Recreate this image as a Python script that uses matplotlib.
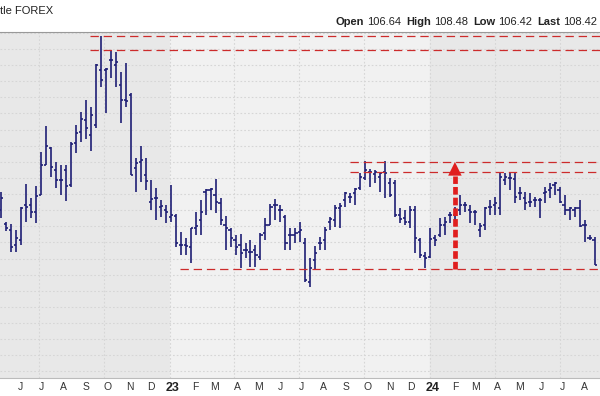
import datetime as dt

import matplotlib.dates as mdates
import matplotlib.pyplot as plt
import pandas as pd
from matplotlib.transforms import IdentityTransform

# weekly bars, first week starts on this Monday
first_week = "2022-05-09"

opens = [104.01, 103.14, 102.77, 101.84, 102.15, 104.32, 104.32, 103.89, 104.94, 106.80,
         107.86, 106.49, 105.87, 106.49, 105.56, 108.17, 108.85, 109.60, 108.67, 109.29,
         112.70, 112.70, 113.32, 113.01, 111.77, 110.84, 111.15, 106.62, 106.99, 106.18,
         104.51, 104.76, 104.20, 104.01, 103.58, 103.64, 101.84, 101.84, 101.72, 102.90,
         103.39, 105.13, 105.25, 104.94, 104.45, 103.08, 102.77, 102.15, 101.84, 101.53,
         101.41, 101.53, 101.10, 102.59, 103.08, 104.32, 104.01, 103.58, 102.46, 102.46,
         102.65, 101.97, 99.55, 100.91, 101.97, 102.15, 103.27, 103.39, 104.14, 104.63,
         104.82, 105.07, 105.38, 106.00, 106.37, 106.25, 106.06, 106.37, 105.69, 105.69,
         103.70, 103.52, 103.27, 104.01, 102.15, 101.16, 101.10, 102.28, 102.46, 103.08,
         103.70, 103.70, 104.01, 104.32, 104.01, 103.89, 102.77, 103.08, 104.20, 104.32,
         104.14, 105.87, 106.00, 105.94, 105.07, 104.76, 104.51, 104.63, 104.63, 105.07,
         105.25, 105.56, 105.25, 104.32, 104.01, 104.01, 104.14, 103.08, 102.28, 102.15]
highs = [105.13, 103.27, 103.14, 102.77, 104.20, 105.63, 104.76, 105.50, 107.61, 109.22,
         107.92, 106.99, 106.80, 106.80, 108.23, 109.29, 110.09, 110.84, 110.40, 113.07,
         114.81, 112.82, 113.94, 113.81, 112.57, 113.13, 111.27, 107.24, 107.98, 107.24,
         105.87, 105.38, 104.63, 104.32, 105.56, 103.76, 102.65, 102.28, 102.90, 103.89,
         104.63, 105.32, 105.38, 105.94, 104.76, 103.64, 102.90, 102.46, 102.52, 101.97,
         102.15, 101.84, 102.59, 103.52, 104.38, 104.70, 104.32, 103.70, 102.90, 102.90,
         103.27, 102.28, 101.03, 101.78, 102.34, 102.96, 103.58, 104.32, 104.45, 105.13,
         105.07, 105.38, 106.31, 107.05, 106.56, 106.49, 106.37, 107.05, 106.00, 105.87,
         104.14, 104.01, 104.26, 104.26, 102.28, 101.41, 102.90, 102.46, 103.52, 103.58,
         103.89, 104.20, 104.94, 104.51, 104.32, 104.01, 103.21, 104.20, 104.63, 104.82,
         106.31, 106.31, 106.37, 106.37, 105.44, 105.13, 105.07, 104.82, 104.76, 105.44,
         105.69, 105.75, 105.44, 104.94, 104.20, 104.20, 104.63, 103.39, 102.46, 102.34]
lows = [103.52, 102.71, 101.41, 101.41, 101.84, 103.27, 103.52, 103.21, 104.94, 106.80,
        106.06, 105.38, 104.94, 104.57, 105.44, 107.55, 108.23, 108.42, 107.67, 109.10,
        111.64, 110.03, 112.20, 111.64, 109.41, 110.40, 106.18, 105.13, 105.75, 105.25,
        104.01, 103.39, 103.58, 103.21, 103.27, 101.72, 101.22, 101.22, 100.72, 102.46,
        102.46, 103.70, 104.01, 103.83, 103.08, 101.53, 101.72, 101.22, 100.41, 101.03,
        100.48, 100.48, 100.91, 102.15, 103.08, 103.39, 103.27, 101.53, 101.53, 101.97,
        102.03, 99.55, 99.24, 100.29, 101.53, 101.53, 102.77, 102.96, 102.90, 104.20,
        104.45, 104.32, 105.25, 105.87, 105.44, 105.69, 105.13, 104.76, 104.82, 103.58,
        103.21, 103.08, 102.90, 101.35, 101.03, 100.41, 101.03, 101.78, 102.34, 102.46,
        103.21, 103.27, 103.70, 103.89, 103.21, 103.08, 102.34, 102.77, 103.70, 103.70,
        103.70, 105.56, 105.25, 104.45, 104.63, 104.01, 104.20, 104.20, 103.52, 104.45,
        104.76, 104.94, 104.45, 103.70, 103.39, 103.58, 102.96, 102.03, 102.15, 100.60]
closes = [104.76, 102.90, 101.72, 102.28, 104.14, 104.20, 103.89, 104.88, 106.80, 107.98,
          106.68, 105.87, 105.87, 105.50, 108.11, 108.79, 109.66, 109.10, 109.91, 113.01,
          112.08, 112.76, 113.32, 113.19, 110.84, 110.77, 106.18, 106.93, 107.11, 105.81,
          104.70, 104.76, 104.26, 103.89, 103.70, 101.97, 101.84, 101.78, 102.90, 103.02,
          103.89, 105.25, 105.32, 104.51, 103.39, 102.90, 102.28, 101.72, 101.35, 101.53,
          101.41, 101.22, 102.46, 103.08, 104.20, 104.32, 104.01, 101.97, 102.46, 102.59,
          102.77, 99.67, 100.41, 101.35, 101.97, 102.77, 103.45, 104.14, 104.26, 105.07,
          104.82, 105.32, 106.06, 106.49, 106.37, 106.37, 106.31, 106.31, 104.94, 103.70,
          103.45, 103.27, 104.01, 102.28, 101.22, 101.03, 102.21, 102.15, 103.08, 103.27,
          103.70, 103.95, 104.32, 104.32, 103.89, 103.89, 103.02, 104.14, 104.20, 104.45,
          106.06, 106.06, 106.00, 104.82, 105.07, 104.45, 104.51, 104.63, 104.63, 105.13,
          105.38, 105.69, 104.51, 104.01, 104.14, 104.14, 103.02, 103.08, 102.28, 100.60]

# red dashed levels and where they begin
levels = [114.81, 113.92, 106.99, 106.35, 100.38]
level_starts = ["2022-09-11", "2022-09-11", "2023-09-10", "2023-09-10", "2023-01-15"]

arrow_date = "2024-02-05"
arrow_low = 100.38
arrow_high = 106.99

month_labels = ["J", "J", "A", "S", "O", "N", "D", "23", "F", "M", "A", "M", "J",
                "J", "A", "S", "O", "N", "D", "24", "F", "M", "A", "M", "J", "J", "A"]
first_month = "2022-06-01"

header_left = "tle FOREX"
header = [("Open", "106.64"), ("High", "108.48"), ("Low", "106.42"), ("Last", "108.42")]

navy = "#1f1f75"
red = "#cc2b2b"

plt.rcParams["font.family"] = ["Liberation Sans", "DejaVu Sans"]
plt.rcParams["lines.scale_dashes"] = False

fig = plt.figure(figsize=(6, 3.96), dpi=100)
ax = fig.add_axes([0, 18 / 396, 1, 346 / 396])

weeks = mdates.date2num(pd.date_range(first_week, periods=len(closes), freq="7D"))
y23 = mdates.date2num(dt.datetime(2023, 1, 1))
y24 = mdates.date2num(dt.datetime(2024, 1, 1))
x_left, x_right = y23 - 238.7, y24 + 238.7

# year shading
ax.axvspan(x_left, y23, color="#e8e8e8", zorder=0)
ax.axvspan(y23, y24, color="#f1f1f1", zorder=0)
ax.axvspan(y24, x_right, color="#e8e8e8", zorder=0)

# grid
for v in range(94, 116):
    ax.axhline(v, color="#d6d6d6", lw=0.8, ls=(0, (1.2, 1.5)), zorder=1)
quarters = pd.date_range("2022-07-01", "2024-07-01", freq="QS")
for q in mdates.date2num(quarters):
    ax.axvline(q, color="#d6d6d6", lw=0.8, ls=(0, (1.2, 1.5)), zorder=1)

# OHLC bars
tick = 3.0
ax.vlines(weeks, lows, highs, color=navy, lw=1.2, zorder=3)
ax.hlines(opens, weeks - tick, weeks, color=navy, lw=1.2, zorder=3)
ax.hlines(closes, weeks, weeks + tick, color=navy, lw=1.2, zorder=3)

# levels
starts = mdates.date2num(pd.to_datetime(level_starts))
ax.hlines(levels, starts, x_right, colors=red, lw=0.9, linestyles=[(0, (6, 3.5))], zorder=4)

# arrow
ad = mdates.date2num(pd.Timestamp(arrow_date))
head_h = 0.85
head_w = 9.5
ax.plot([ad, ad], [arrow_low, arrow_high - head_h], color="#e01e1e", lw=3.4,
        dashes=(5.5, 2.2), solid_capstyle="butt", dash_capstyle="butt", zorder=5)
ax.fill([ad - head_w, ad + head_w, ad], [arrow_high - head_h, arrow_high - head_h, arrow_high],
        color="#e01e1e", lw=0, zorder=5)

ax.set_xlim(x_left, x_right)
ax.set_ylim(93.59, 115.05)
ax.set_yticks([])

# month labels
months = mdates.date2num(pd.date_range(first_month, periods=len(month_labels), freq="MS"))
ax.set_xticks(months + 4)
ax.set_xticklabels(month_labels)
ax.tick_params(axis="x", length=0, pad=3, labelsize=7.5, labelcolor="#333333")
for lab in ax.get_xticklabels():
    if len(lab.get_text()) == 2:
        lab.set_fontweight("bold")
        lab.set_fontsize(9)
        lab.set_color("#222222")

for side in ["left", "right"]:
    ax.spines[side].set_visible(False)
ax.spines["top"].set_color("#999999")
ax.spines["bottom"].set_color("#bbbbbb")

# header
fig.text(0, 1 - 11 / 396, header_left, fontsize=8, color="#222222", va="center")
fig.canvas.draw()
renderer = fig.canvas.get_renderer()
x = 597
y = 396 - 22
for label, value in reversed(header):
    t = fig.text(x, y, value, transform=IdentityTransform(), ha="right", va="center",
                 fontsize=8, color="#222222")
    x -= t.get_window_extent(renderer).width + 3
    t = fig.text(x, y, label, transform=IdentityTransform(), ha="right", va="center",
                 fontsize=8, fontweight="bold", color="#222222")
    x -= t.get_window_extent(renderer).width + 5

fig.savefig("out.png", dpi=100)
